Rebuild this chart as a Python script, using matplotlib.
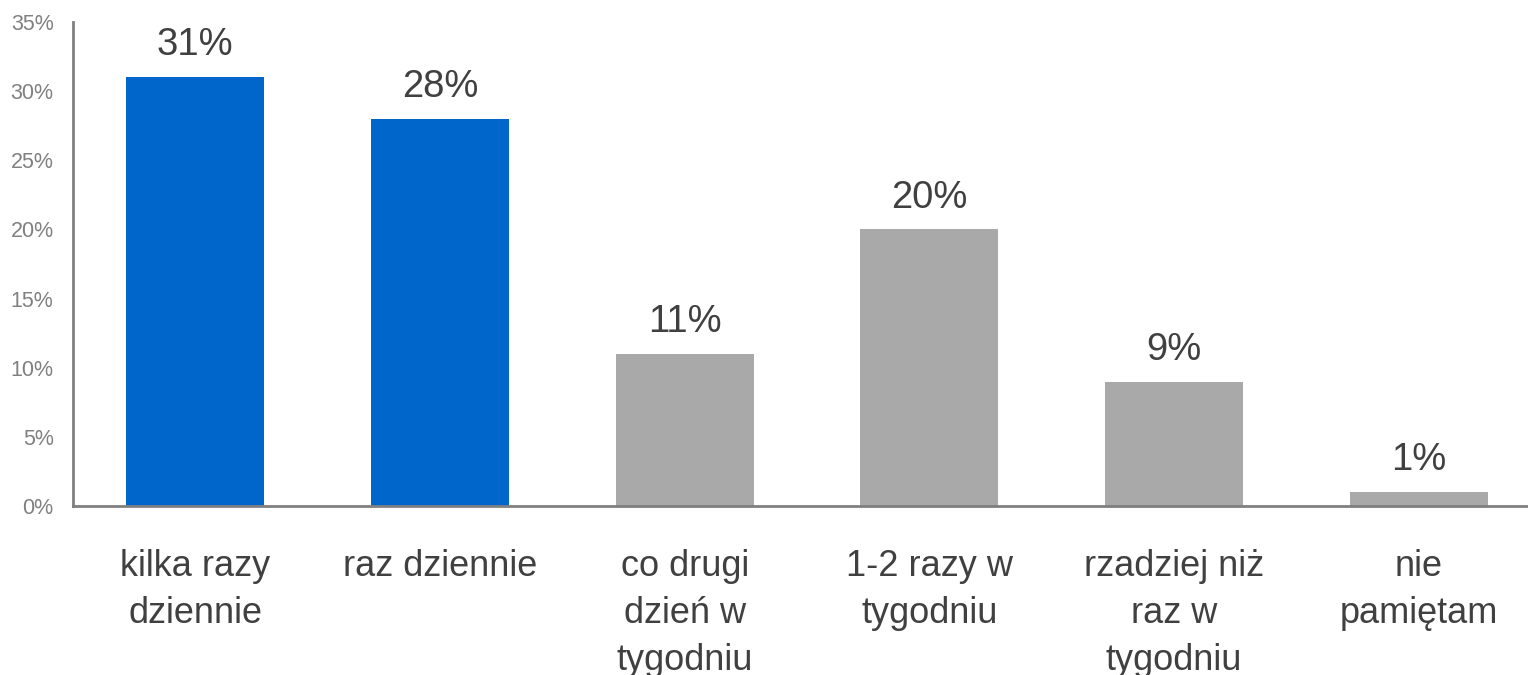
import matplotlib
matplotlib.use("Agg")
import matplotlib.pyplot as plt
from matplotlib.ticker import FuncFormatter

plt.rcParams["font.family"] = ["Liberation Sans", "DejaVu Sans"]

categories = ["kilka razy\ndziennie", "raz dziennie", "co drugi\ndzień w\ntygodniu",
              "1-2 razy w\ntygodniu", "rzadziej niż\nraz w\ntygodniu", "nie\npamiętam"]
values = [31, 28, 11, 20, 9, 1]
colors = ["#0066CC", "#0066CC", "#A9A9A9", "#A9A9A9", "#A9A9A9", "#A9A9A9"]
yticks = [0, 5, 10, 15, 20, 25, 30, 35]

fig = plt.figure(figsize=(15.28, 6.75), dpi=100)
ax = fig.add_axes([73 / 1528, 169 / 675, 1468 / 1528, 484 / 675])

x = list(range(len(categories)))
bars = ax.bar(x, values, width=0.565, color=colors)

for xi, v in zip(x, values):
    ax.annotate(f"{v}%", (xi, v), xytext=(0, 10), textcoords="offset points",
                ha="center", va="bottom", fontsize=27.5, color="#404040")

ax.set_xlim(-0.5, len(categories) - 0.5)
ax.set_ylim(0, 35)
ax.set_yticks(yticks)
ax.yaxis.set_major_formatter(FuncFormatter(lambda v, p: f"{v:.0f}%"))
ax.tick_params(axis="y", length=0, labelsize=15.5, labelcolor="#808080", pad=14)
ax.set_xticks(x)
ax.set_xticklabels(categories, fontsize=26, color="#404040", linespacing=1.45)
ax.tick_params(axis="x", length=0, pad=31)

for s in ["top", "right"]:
    ax.spines[s].set_visible(False)
for s in ["left", "bottom"]:
    ax.spines[s].set_color("#808080")
    ax.spines[s].set_linewidth(2)

fig.savefig("out.png", dpi=100)
